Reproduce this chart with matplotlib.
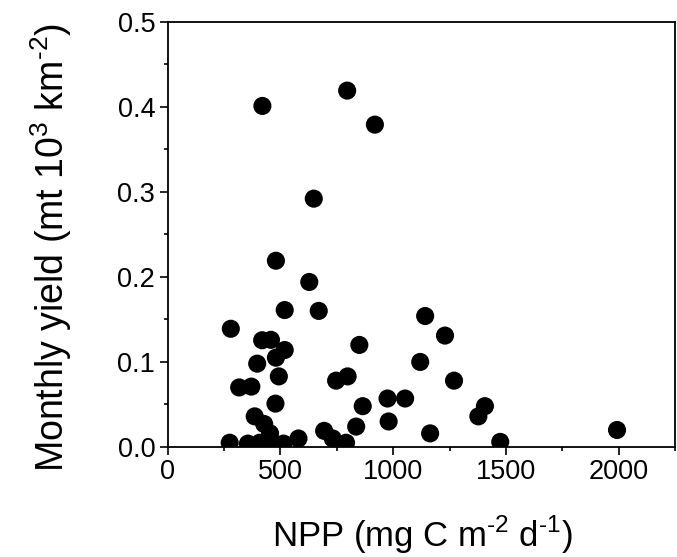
import numpy as np
import matplotlib
matplotlib.use("Agg")
import matplotlib.pyplot as plt
from matplotlib.ticker import MultipleLocator, FormatStrFormatter

# NPP (mg C m-2 d-1) vs monthly yield (mt 10^3 km-2)
npp = [280, 275, 317, 371, 356, 386, 397, 408, 419, 420,
       428, 445, 454, 458, 478, 480, 480, 493, 514, 519,
       519, 580, 628, 648, 670, 694, 732, 747, 791, 796,
       798, 836, 850, 865, 919, 975, 980, 1053, 1120, 1142,
       1164, 1230, 1270, 1378, 1407, 1475, 1993]
yld = [0.139, 0.005, 0.070, 0.071, 0.004, 0.036, 0.098, 0.005, 0.1255, 0.401,
       0.027, 0.006, 0.016, 0.126, 0.051, 0.105, 0.219, 0.083, 0.004, 0.114,
       0.161, 0.010, 0.194, 0.292, 0.160, 0.019, 0.010, 0.078, 0.005, 0.419,
       0.083, 0.024, 0.120, 0.048, 0.379, 0.057, 0.030, 0.057, 0.100, 0.154,
       0.016, 0.131, 0.078, 0.036, 0.048, 0.006, 0.020]

plt.rcParams['font.family'] = ['Liberation Sans', 'DejaVu Sans']
plt.rcParams['mathtext.fontset'] = 'custom'
plt.rcParams['mathtext.rm'] = 'Liberation Sans'

fig = plt.figure(figsize=(6.77, 5.57), dpi=100)
ax = fig.add_axes([0.2477, 0.1975, 0.7493, 0.7635])

ax.scatter(npp, yld, s=170, color='black', edgecolors='none', zorder=3)

ax.set_xlim(0, 2250)
ax.set_ylim(0, 0.5)
ax.xaxis.set_major_locator(MultipleLocator(500))
ax.xaxis.set_minor_locator(MultipleLocator(250))
ax.yaxis.set_major_locator(MultipleLocator(0.1))
ax.yaxis.set_minor_locator(MultipleLocator(0.05))
ax.yaxis.set_major_formatter(FormatStrFormatter('%.1f'))

for sp in ax.spines.values():
    sp.set_linewidth(1.3)
ax.tick_params(which='major', direction='out', length=6, width=1.2,
               labelsize=19.5, pad=3)
ax.tick_params(which='minor', direction='out', length=3, width=1.2)

ax.set_xlabel(r'NPP (mg C m$^{\text{-2}}$ d$^{\text{-1}}$)', fontsize=25)
ax.set_ylabel(r'Monthly yield (mt 10$^{\text{3}}$ km$^{\text{-2}}$)', fontsize=27)
ax.xaxis.set_label_coords(0.502, -0.157)
ax.yaxis.set_label_coords(-0.185, 0.47)

fig.savefig('out.png', dpi=100)
